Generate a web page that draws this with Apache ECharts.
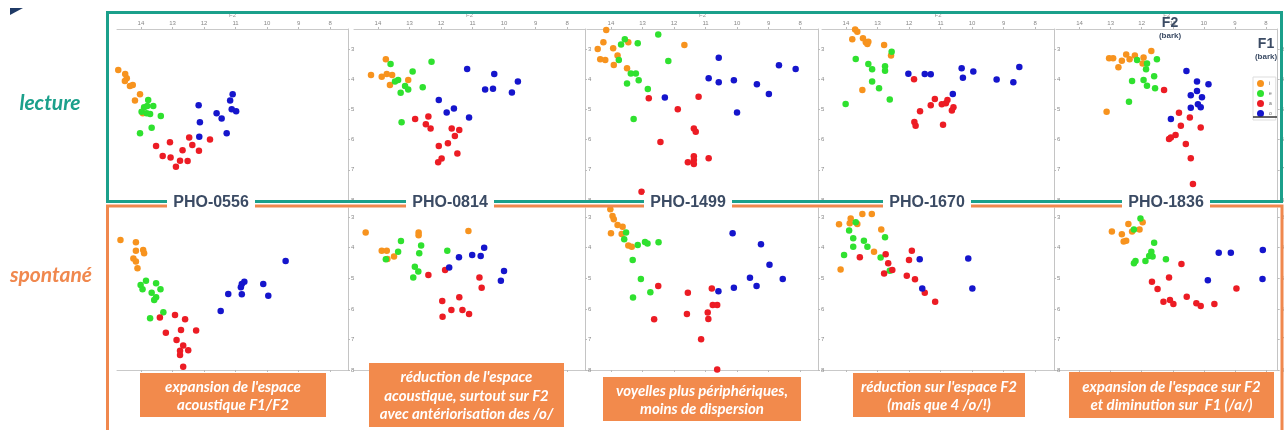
<!DOCTYPE html>
<html>
<head>
<meta charset="utf-8">
<title>Espace vocalique F1/F2 - lecture / spontané</title>
<script src="https://cdn.jsdelivr.net/npm/echarts@6.0.0/dist/echarts.min.js"></script>
<style>
  html, body { margin: 0; padding: 0; background: #fff; }
  #main { width: 1287px; height: 430px; }
</style>
</head>
<body>
<div id="main"></div>
<script>
// locuteurs et voyelles
const speakers = ['PHO-0556', 'PHO-0814', 'PHO-1499', 'PHO-1670', 'PHO-1836'];
const vowels = ['i', 'e', 'a', 'o'];
const f2Ticks = [8, 9, 10, 11, 12, 13, 14];
const f1Ticks = [3, 4, 5, 6, 7, 8];
const notes = [
  "expansion de l'espace\nacoustique F1/F2",
  "réduction de l'espace\nacoustique, surtout sur F2\navec antériorisation des /o/",
  "voyelles plus périphériques,\nmoins de dispersion",
  "réduction sur l'espace F2\n(mais que 4 /o/!)",
  "expansion de l'espace sur F2\net diminution sur  F1 (/a/)"
];

// lecture : [F2, F1] en bark, un tableau par locuteur
const lectureI = [
  [[14.72,3.70],[14.50,3.83],[14.45,3.97],[14.51,4.06],[14.35,4.23],[14.26,4.19],[14.03,4.50],[14.19,4.71],[13.94,5.13]],
  [[14.22,3.86],[13.75,3.34],[13.88,3.92],[13.72,3.83],[13.55,3.86],[13.62,4.19],[13.04,4.03]],
  [[14.15,2.37],[14.24,2.78],[14.42,3.00],[13.93,2.98],[13.45,2.78],[13.79,3.22],[14.34,3.34],[14.18,3.37],[13.91,3.53],[13.49,3.64],[11.67,2.87]],
  [[13.71,2.36],[13.64,2.43],[13.80,2.68],[13.46,2.65],[13.37,2.78],[13.29,2.76],[13.32,2.84],[12.79,2.87],[12.57,3.22],[13.48,4.36]],
  [[13.05,3.31],[12.92,3.31],[12.64,3.39],[12.50,3.18],[12.39,3.34],[12.22,3.22],[11.94,3.28],[11.97,3.48],[11.69,3.07],[12.75,3.61],[13.13,5.08]]
];
const lectureE = [
  [[13.77,4.69],[13.90,4.93],[13.80,4.89],[13.61,4.89],[13.98,5.08],[13.82,5.13],[13.71,5.15],[13.37,5.22],[13.66,5.61],[14.03,5.79]],
  [[13.60,3.50],[12.30,3.42],[12.90,3.75],[13.36,4.03],[13.46,4.08],[13.14,4.23],[13.04,4.34],[13.28,4.45],[12.58,4.27],[13.25,5.43]],
  [[13.56,2.68],[13.68,2.85],[13.15,2.81],[12.50,2.52],[13.75,3.37],[12.18,3.40],[13.37,3.81],[13.21,3.81],[13.49,4.14],[13.12,4.04],[12.83,4.33],[13.28,5.32]],
  [[12.55,3.09],[13.69,3.33],[13.29,3.50],[13.17,3.67],[12.76,3.57],[12.76,3.72],[13.17,4.08],[12.95,4.30],[12.61,4.67],[14.01,4.82]],
  [[12.15,3.37],[11.83,3.48],[11.51,3.34],[11.86,3.67],[12.31,4.06],[11.94,4.03],[11.83,4.22],[11.60,3.90],[11.57,4.30],[12.41,4.75]]
];
const lectureA = [
  [[13.52,6.21],[13.08,6.09],[12.47,5.93],[11.81,6.00],[12.37,6.18],[12.16,6.37],[12.68,6.35],[13.31,6.54],[13.06,6.59],[12.76,6.70],[12.52,6.71],[12.89,6.90]],
  [[12.82,5.32],[12.40,5.24],[12.48,5.49],[12.33,5.63],[11.66,5.63],[11.42,5.68],[11.56,5.88],[12.07,6.21],[11.78,6.12],[11.48,6.46],[11.98,6.63],[12.09,6.75]],
  [[12.80,4.63],[11.22,4.58],[11.88,5.00],[11.37,5.63],[11.31,5.74],[12.43,6.08],[11.37,6.55],[11.37,6.68],[11.37,6.81],[11.56,6.75],[10.90,6.62],[13.03,7.73]],
  [[11.84,4.00],[11.18,4.66],[11.31,4.86],[10.96,4.83],[10.83,4.80],[10.78,4.69],[10.59,4.93],[10.64,5.04],[11.65,5.06],[11.83,5.42],[11.79,5.54],[10.92,5.51]],
  [[11.28,4.36],[10.80,5.11],[10.45,5.27],[10.74,5.54],[10.10,5.60],[10.91,5.85],[11.06,5.93],[11.12,5.98],[10.58,6.15],[10.42,6.62],[10.35,7.47]]
];
const lectureO = [
  [[11.09,4.50],[11.17,4.71],[11.12,5.00],[10.98,5.06],[12.17,4.86],[11.60,5.13],[11.44,5.30],[12.13,5.43],[11.28,5.79],[12.15,5.91]],
  [[11.17,3.66],[10.31,3.83],[9.56,4.08],[10.60,4.34],[10.35,4.32],[9.75,4.44],[12.07,4.69],[11.59,4.97],[11.82,5.10],[11.11,5.27]],
  [[10.58,3.29],[10.90,3.97],[10.58,4.10],[10.10,4.04],[9.37,4.17],[8.99,4.49],[8.67,3.54],[8.14,3.66],[12.29,4.61],[10.00,5.10]],
  [[12.02,3.82],[11.50,3.83],[11.31,3.84],[10.33,3.64],[9.96,3.75],[10.29,3.95],[9.22,4.01],[8.69,4.10],[8.50,3.60],[10.61,4.49]],
  [[10.56,3.73],[10.22,4.08],[9.85,4.17],[10.22,4.39],[10.42,4.53],[10.06,4.60],[10.19,4.83],[10.10,4.93],[10.42,4.95],[11.06,5.32]]
];

// parole spontanée
const spontI = [
  [[14.65,3.75],[14.16,3.82],[14.16,4.10],[13.93,4.07],[13.90,4.18],[14.24,4.35],[14.16,4.45],[14.11,4.67]],
  [[14.39,3.50],[12.71,3.50],[12.71,3.59],[11.13,3.45],[13.88,4.10],[13.72,4.10],[13.49,4.29],[13.70,4.37]],
  [[14.02,2.74],[13.95,2.96],[13.91,3.07],[13.79,3.26],[13.63,3.31],[14.00,3.53],[13.66,3.55],[13.45,3.93],[13.34,3.97]],
  [[13.85,3.04],[13.48,2.90],[13.18,2.90],[14.22,3.23],[13.88,3.20],[13.64,3.22],[12.88,3.40],[13.11,4.13],[14.17,4.71]],
  [[12.96,3.47],[12.64,3.56],[12.58,3.80],[12.50,3.77],[12.43,3.22],[12.31,3.47],[12.07,3.40],[11.97,3.17]]
];
const spontE = [
  [[13.84,5.08],[14.01,5.22],[13.95,5.36],[13.52,5.16],[13.38,5.36],[13.66,5.47],[13.52,5.62],[13.58,5.71],[13.29,6.11],[13.71,6.31]],
  [[13.27,3.78],[12.63,3.93],[13.36,4.13],[12.69,4.18],[11.80,4.10],[13.75,4.38],[12.83,4.62],[12.72,4.78],[12.88,4.97]],
  [[13.52,3.50],[13.58,3.72],[13.15,3.91],[12.92,3.81],[12.84,3.86],[12.49,3.82],[13.31,4.40],[13.05,5.02],[12.75,5.46],[13.30,5.63]],
  [[13.69,3.17],[13.90,3.44],[13.77,3.69],[13.43,3.77],[12.76,3.66],[13.77,3.97],[13.32,3.97],[14.06,4.24],[12.90,4.32],[12.61,4.75]],
  [[12.04,3.04],[12.25,3.40],[11.60,3.84],[11.69,4.13],[11.76,4.27],[11.65,4.29],[11.88,4.43],[12.20,4.43],[12.25,4.51],[11.22,4.38]]
];
const spontA = [
  [[13.40,6.28],[12.92,6.20],[12.60,6.34],[13.21,6.78],[12.73,6.69],[12.25,6.71],[12.87,7.02],[12.66,7.20],[12.76,7.37],[12.50,7.35],[12.76,7.51],[12.66,7.89]],
  [[12.40,4.89],[11.87,4.73],[10.78,4.97],[10.71,5.31],[11.96,5.74],[11.42,5.62],[11.67,6.04],[11.32,6.04],[11.11,6.17],[11.95,6.26]],
  [[12.50,5.25],[11.56,5.47],[10.80,5.33],[10.77,5.87],[10.63,5.87],[11.59,6.17],[10.93,6.12],[10.91,6.33],[12.63,6.34],[11.14,6.99],[10.63,7.98]],
  [[13.56,4.31],[12.74,4.21],[12.66,4.51],[12.53,4.73],[12.79,4.84],[11.91,4.10],[12.00,4.40],[12.07,4.92],[11.81,5.03],[11.50,5.47],[11.17,5.77]],
  [[10.72,4.53],[11.12,4.97],[11.67,5.11],[11.49,5.35],[10.55,5.60],[11.30,5.77],[11.09,5.71],[10.98,5.84],[10.24,5.82],[10.10,5.91],[9.66,5.84],[8.95,5.33]]
];
const spontO = [
  [[9.41,4.43],[10.72,5.11],[10.80,5.19],[10.83,5.29],[10.12,5.19],[11.23,5.51],[10.80,5.52],[9.96,5.57],[11.47,6.07]],
  [[10.63,4.00],[11.01,4.24],[10.74,4.27],[11.43,4.31],[11.74,4.65],[10.00,4.76],[10.10,5.08]],
  [[10.14,3.53],[9.24,3.89],[8.97,4.56],[9.59,4.98],[9.38,5.25],[10.10,5.31],[10.59,5.42],[8.55,5.02]],
  [[11.66,4.38],[10.12,4.35],[9.99,5.33],[11.58,5.33]],
  [[9.52,4.16],[9.13,4.16],[8.10,4.07],[9.87,5.06],[8.11,5.02]]
];

const colors = ['#f7931e', '#2fe12f', '#ec1c24', '#1515cc'];
const teal = '#1ba08b';
const orange = '#f0884e';
const slate = '#3b4b64';

// mise en page des 5 colonnes
const lefts = [117, 354, 587, 822, 1056];
const widths = [231, 231, 231, 232, 225];
const pxPerBark = 31.52;
const f2Max = 14.76;

const rows = [
  { top: 29, height: 171, min: 2.34, sets: [lectureI, lectureE, lectureA, lectureO], axisPos: 'top' },
  { top: 208, height: 162, min: 2.7, sets: [spontI, spontE, spontA, spontO], axisPos: 'bottom' }
];

let grid = [], xAxis = [], yAxis = [], series = [];
rows.forEach((row, r) => {
  speakers.forEach((sp, p) => {
    let idx = r * 5 + p;
    grid.push({ left: lefts[p], top: row.top, width: widths[p], height: row.height });
    xAxis.push({
      gridIndex: idx, type: 'value', position: row.axisPos, inverse: true,
      min: +(f2Max - widths[p] / pxPerBark).toFixed(3), max: f2Max,
      name: r === 0 ? 'F2' : '', nameLocation: 'middle', nameGap: 11,
      nameTextStyle: { fontSize: 6, color: '#999' },
      axisLine: { show: true, lineStyle: { color: '#c9c9c9' } },
      axisTick: { show: true, customValues: f2Ticks, length: 2, lineStyle: { color: '#bbb' } },
      axisLabel: { show: r === 0, customValues: f2Ticks, fontSize: 6, color: '#888', margin: 3 },
      splitLine: { show: false }
    });
    yAxis.push({
      gridIndex: idx, type: 'value', position: 'right', inverse: true,
      min: row.min, max: 8,
      axisLine: { show: true, lineStyle: { color: '#c4c4c4' } },
      axisTick: { show: true, customValues: f1Ticks, length: 2, lineStyle: { color: '#bbb' } },
      axisLabel: { customValues: f1Ticks, fontSize: 6, color: '#888', margin: 3 },
      splitLine: { show: false }
    });
    row.sets.forEach((set, v) => {
      series.push({
        type: 'scatter', name: vowels[v],
        xAxisIndex: idx, yAxisIndex: idx,
        data: set[p], symbolSize: 6.5,
        itemStyle: { color: colors[v], opacity: 1 }
      });
    });
  });
});

// cadres, titres, annotations
const titleCx = [211, 450, 688, 927, 1166];
const noteBoxes = [[140, 373, 186, 44], [369, 363, 195, 64], [603, 377, 198, 44], [853, 373, 172, 44], [1069, 372, 205, 46]];
let g = [];
g.push({ type: 'polygon', shape: { points: [[10, 8], [23, 8], [10, 15]] }, style: { fill: '#1f3a66' }, z: 100 });
g.push({ type: 'rect', shape: { x: 107.5, y: 12.5, width: 1174, height: 189 }, style: { fill: 'none', stroke: teal, lineWidth: 3 }, z: 100 });
g.push({ type: 'polyline', shape: { points: [[107.5, 430], [107.5, 206], [1282, 206], [1282, 430]] }, style: { fill: 'none', stroke: orange, lineWidth: 3 }, z: 100 });
speakers.forEach((sp, p) => {
  g.push({ type: 'rect', shape: { x: titleCx[p] - 44, y: 193, width: 88, height: 19 }, style: { fill: '#fff' }, z: 101 });
  g.push({ type: 'text', x: titleCx[p], y: 203, style: { text: sp, fill: slate, font: 'bold 16px "Liberation Sans", Arial, sans-serif', align: 'center', verticalAlign: 'middle' }, z: 102 });
});
notes.forEach((t, p) => {
  let b = noteBoxes[p];
  g.push({ type: 'rect', shape: { x: b[0], y: b[1], width: b[2], height: b[3] }, style: { fill: '#f28a4c' }, z: 101 });
  g.push({ type: 'text', x: b[0] + b[2] / 2, y: b[1] + b[3] / 2 + 1, style: { text: t, fill: '#fff', font: 'italic bold 15px Lato, "Open Sans", sans-serif', lineHeight: 18.5, align: 'center', verticalAlign: 'middle' }, z: 102 });
});
g.push({ type: 'text', x: 50, y: 103, style: { text: 'lecture', fill: teal, font: 'italic bold 21px Lato, sans-serif', align: 'center', verticalAlign: 'middle' }, z: 102 });
g.push({ type: 'text', x: 92, y: 275, style: { text: 'spontané', fill: orange, font: 'italic bold 21px Lato, sans-serif', align: 'right', verticalAlign: 'middle' }, z: 102 });
g.push({ type: 'text', x: 1170, y: 23, style: { text: 'F2', fill: slate, font: 'bold 14px "Liberation Sans", Arial, sans-serif', align: 'center', verticalAlign: 'middle' }, z: 102 });
g.push({ type: 'text', x: 1170, y: 36, style: { text: '(bark)', fill: slate, font: 'bold 8px "Liberation Sans", Arial, sans-serif', align: 'center', verticalAlign: 'middle' }, z: 102 });
g.push({ type: 'text', x: 1266, y: 44, style: { text: 'F1', fill: slate, font: 'bold 14px "Liberation Sans", Arial, sans-serif', align: 'center', verticalAlign: 'middle' }, z: 102 });
g.push({ type: 'text', x: 1266, y: 57, style: { text: '(bark)', fill: slate, font: 'bold 8px "Liberation Sans", Arial, sans-serif', align: 'center', verticalAlign: 'middle' }, z: 102 });
g.push({ type: 'line', shape: { x1: 1253, y1: 117, x2: 1277, y2: 117 }, style: { stroke: '#333', lineWidth: 1.5 }, z: 102 });

const option = {
  animation: false,
  backgroundColor: '#fff',
  legend: {
    data: vowels, orient: 'vertical', left: 1253, top: 77,
    itemWidth: 7, itemHeight: 7, itemGap: 3, padding: [3, 4, 3, 4],
    icon: 'circle',
    textStyle: { fontSize: 5, color: '#666' },
    borderColor: '#ddd', borderWidth: 1, backgroundColor: '#fff'
  },
  grid: grid,
  xAxis: xAxis,
  yAxis: yAxis,
  series: series,
  graphic: { elements: g }
};

let myChart = echarts.init(document.getElementById('main'));
myChart.setOption(option);
</script>
</body>
</html>
